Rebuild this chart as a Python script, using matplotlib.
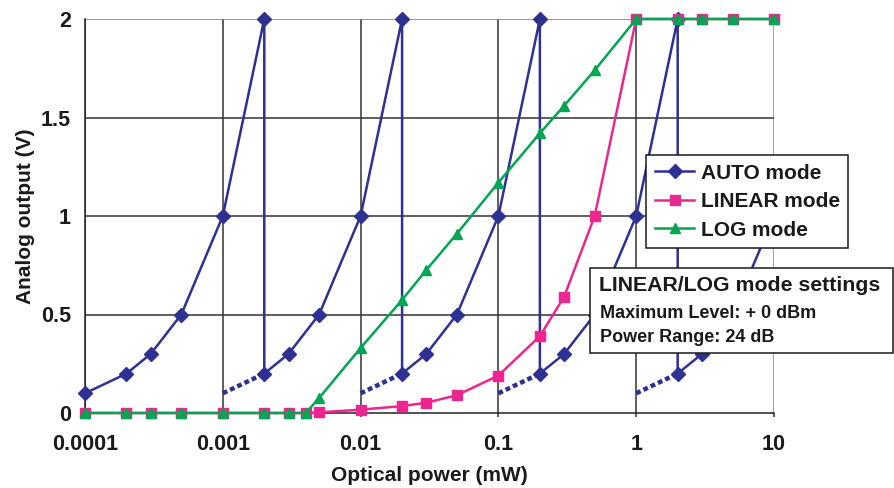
import matplotlib
matplotlib.use("Agg")
import matplotlib.pyplot as plt
from matplotlib.lines import Line2D
from matplotlib.patches import Rectangle

plt.rcParams['font.family'] = ['Liberation Sans', 'DejaVu Sans']

# ---- data ----
auto_x = [0.0001, 0.0002, 0.0003, 0.0005, 0.001, 0.002,
          0.002, 0.003, 0.005, 0.01, 0.02,
          0.02, 0.03, 0.05, 0.1, 0.2,
          0.2, 0.3, 0.5, 1, 2,
          2, 3, 5, 10]
auto_y = [0.1, 0.2, 0.3, 0.5, 1.0, 2.0,
          0.2, 0.3, 0.5, 1.0, 2.0,
          0.2, 0.3, 0.5, 1.0, 2.0,
          0.2, 0.3, 0.5, 1.0, 2.0,
          0.2, 0.3, 0.5, 1.0]
dotted_x = [[0.001, 0.002], [0.01, 0.02], [0.1, 0.2], [1, 2]]
dotted_y = [0.1, 0.2]

linear_x = [0.0001, 0.0002, 0.0003, 0.0005, 0.001, 0.002, 0.003, 0.004, 0.005,
            0.01, 0.02, 0.03, 0.05, 0.1, 0.2, 0.3, 0.5, 1, 2, 3, 5, 10]
linear_y = [0, 0, 0, 0, 0, 0, 0, 0, 0.003,
            0.017, 0.035, 0.052, 0.09, 0.19, 0.39, 0.59, 1.0, 2, 2, 2, 2, 2]

log_x = [0.0001, 0.0002, 0.0003, 0.0005, 0.001, 0.002, 0.003, 0.004, 0.005,
         0.01, 0.02, 0.03, 0.05, 0.1, 0.2, 0.3, 0.5, 1, 2, 3, 5, 10]
log_y = [0, 0, 0, 0, 0, 0, 0, 0, 0.076,
         0.33, 0.574, 0.726, 0.91, 1.17, 1.42, 1.56, 1.74, 2, 2, 2, 2, 2]

x_ticks = [0.0001, 0.001, 0.01, 0.1, 1, 10]
x_ticklabels = ["0.0001", "0.001", "0.01", "0.1", "1", "10"]
y_ticks = [0, 0.5, 1, 1.5, 2]
y_ticklabels = ["0", "0.5", "1", "1.5", "2"]

C_AUTO = '#2E3192'
C_LIN = '#EC268F'
C_LOG = '#00A651'
TXT = '#1a1a1a'

fig = plt.figure(figsize=(8.94, 4.88), dpi=100)
ax = fig.add_axes([85/894, 1-413/488, (774-85)/894, (413-19)/488])

ax.set_xscale('log')
ax.set_xlim(0.0001, 10)
ax.set_ylim(0, 2)

# grid
for xv in x_ticks[:-1]:
    ax.axvline(xv, color='#333333', lw=1.1, zorder=1)
ax.axvline(x_ticks[-1], color='#8c8c8c', lw=1.1, zorder=1)
for yv in y_ticks[1:-1]:
    ax.axhline(yv, color='#333333', lw=1.1, zorder=1)
ax.axhline(2, color='#7a7a7a', lw=1.1, zorder=1)
for s in ['top', 'right']:
    ax.spines[s].set_visible(False)
for s in ['left', 'bottom']:
    ax.spines[s].set_color('#222222')
    ax.spines[s].set_linewidth(1.1)

ax.set_xticks(x_ticks)
ax.set_xticklabels(x_ticklabels)
ax.set_yticks(y_ticks)
ax.set_yticklabels(y_ticklabels)
ax.minorticks_off()
ax.tick_params(axis='x', length=3, width=1.1, color='#333333', pad=12,
               labelsize=15.5)
ax.tick_params(axis='y', length=0, pad=10, labelsize=15.5)
for lbl in ax.get_xticklabels() + ax.get_yticklabels():
    lbl.set_fontweight('bold')
    lbl.set_color(TXT)

ax.set_xlabel('Optical power (mW)', fontsize=15, fontweight='bold',
              color=TXT, labelpad=8)
ax.set_ylabel('Analog output (V)', fontsize=15, fontweight='bold',
              color=TXT, labelpad=4)

# series
for dx in dotted_x:
    ax.plot(dx, dotted_y, color=C_AUTO, lw=3.2, linestyle=(0, (1.1, 0.7)),
            zorder=3, dash_capstyle='butt')
ax.plot(auto_x, auto_y, color=C_AUTO, lw=1.8, marker='D', markersize=7,
        zorder=4, label='AUTO mode', clip_on=False)
ax.plot(linear_x, linear_y, color=C_LIN, lw=1.8, marker='s', markersize=7,
        zorder=4, label='LINEAR mode', clip_on=False)
ax.plot(log_x, log_y, color=C_LOG, lw=1.8, marker='^', markersize=7.5,
        zorder=5, label='LOG mode', clip_on=False)

handles = [
    Line2D([], [], color=C_AUTO, lw=1.8, marker='D', markersize=7),
    Line2D([], [], color=C_LIN, lw=1.8, marker='s', markersize=7),
    Line2D([], [], color=C_LOG, lw=1.8, marker='^', markersize=7.5),
]
leg = fig.legend(handles, ['AUTO mode', 'LINEAR mode', 'LOG mode'],
                 loc='upper left', bbox_to_anchor=(646/894, 1-155/488),
                 bbox_transform=fig.transFigure,
                 frameon=True, fancybox=False, edgecolor=TXT,
                 framealpha=1, borderpad=0.42, labelspacing=0.45,
                 handlelength=1.9, handletextpad=0.3, borderaxespad=0,
                 prop={'weight': 'bold', 'size': 15})
leg.get_frame().set_linewidth(1.1)
for t in leg.get_texts():
    t.set_color(TXT)
leg.set_zorder(10)

# settings box
box = Rectangle((590/894, 1-353/488), (893-590)/894, (353-268)/488,
                transform=fig.transFigure, facecolor='white',
                edgecolor=TXT, lw=1.1, zorder=20)
fig.add_artist(box)
fig.text(599/894, 1-291/488, 'LINEAR/LOG mode settings', fontsize=15.3,
         fontweight='bold', color=TXT, va='baseline', ha='left', zorder=21)
fig.text(600/894, 1-318/488, 'Maximum Level: + 0 dBm', fontsize=13,
         fontweight='bold', color=TXT, va='baseline', ha='left', zorder=21)
fig.text(600/894, 1-342/488, 'Power Range: 24 dB', fontsize=13,
         fontweight='bold', color=TXT, va='baseline', ha='left', zorder=21)

fig.savefig('out.png', dpi=100)
